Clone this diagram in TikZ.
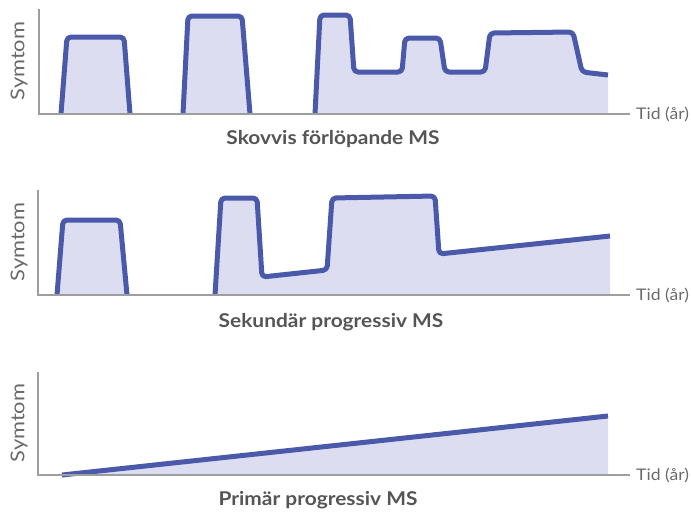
\documentclass[tikz,border=0pt]{standalone}
\usepackage{fontspec}
\usepackage{graphicx}
\setmainfont{Lato}
\definecolor{curveblue}{HTML}{4A59A9}
\definecolor{fillblue}{HTML}{DCDDF0}
\definecolor{axisgray}{HTML}{9E9E9E}
\definecolor{titlegray}{HTML}{555555}
\definecolor{labelgray}{HTML}{6A6A6A}
\newcommand{\wideT}[1]{\scalebox{1.1}[1]{#1}}
\newcommand{\wideY}[1]{\scalebox{1.15}[1]{#1}}
\tikzset{
  curve/.style={draw=curveblue, line width=5pt, rounded corners=4pt, line join=round},
  area/.style={fill=fillblue, rounded corners=4pt},
  axis/.style={draw=axisgray, line width=2pt},
  ylab/.style={text=labelgray, font=\fontsize{19}{19}\selectfont, rotate=90, inner sep=0pt},
  xlab/.style={text=labelgray, font=\fontsize{16}{16}\selectfont, anchor=west, inner sep=0pt},
  title/.style={text=titlegray, font=\bfseries\fontsize{19}{19}\selectfont, inner sep=0pt}
}
\begin{document}
\begin{tikzpicture}[x=1pt,y=-1pt]
\useasboundingbox (0,0) rectangle (691,512);
% ---------- Panel 1 ----------
\fill[area] (61,114) -- (67,37) -- (124,37) -- (130,114) -- cycle;
\fill[area] (183,114) -- (188,16) -- (242,16) -- (250,114) -- cycle;
\fill[area] (315,114) -- (320,15) -- (350,15) -- (354,72) -- (402,72) -- (405,38) -- (440,38) -- (445,72) -- (485,72) -- (490,33) -- (573,32) -- (582,72) -- (608,75) [sharp corners] -- (608,114) -- cycle;
\draw[curve] (61,114) -- (67,37) -- (124,37) -- (130,114);
\draw[curve] (183,114) -- (188,16) -- (242,16) -- (250,114);
\draw[curve] (315,114) -- (320,15) -- (350,15) -- (354,72) -- (402,72) -- (405,38) -- (440,38) -- (445,72) -- (485,72) -- (490,33) -- (573,32) -- (582,72) -- (608,75);
\draw[axis] (39,9) -- (39,114) -- (630,114);
\node[ylab] (sy1) at (19,61) {\wideY{Symtom}};
\node[xlab] (tid1) at (636,114) {\wideT{Tid (år)}};
\node[title] (t1) at (333,139) {\wideT{Skovvis förlöpande MS}};
% ---------- Panel 2 ----------
\fill[area] (57,295) -- (63,220) -- (120,220) -- (127,295) -- cycle;
\fill[area] (215,295) -- (221,198) -- (257,198) -- (262,277) -- (327,270) -- (332,198) -- (435,196) -- (439,254) -- (610,236) [sharp corners] -- (610,295) -- cycle;
\draw[curve] (57,295) -- (63,220) -- (120,220) -- (127,295);
\draw[curve] (215,295) -- (221,198) -- (257,198) -- (262,277) -- (327,270) -- (332,198) -- (435,196) -- (439,254) -- (610,236);
\draw[axis] (38,190) -- (38,295) -- (630,295);
\node[ylab] (sy2) at (19,242) {\wideY{Symtom}};
\node[xlab] (tid2) at (636,295) {\wideT{Tid (år)}};
\node[title] (t2) at (331,322) {\wideT{Sekundär progressiv MS}};
% ---------- Panel 3 ----------
\fill[fillblue] (62,475) -- (608,416) -- (608,475) -- cycle;
\draw[curve] (62,475) -- (608,416);
\draw[axis] (38,372) -- (38,475) -- (630,475);
\node[ylab] (sy3) at (19,423) {\wideY{Symtom}};
\node[xlab] (tid3) at (636,475) {\wideT{Tid (år)}};
\node[title] (t3) at (318,500) {\wideT{Primär progressiv MS}};
\end{tikzpicture}
\end{document}
